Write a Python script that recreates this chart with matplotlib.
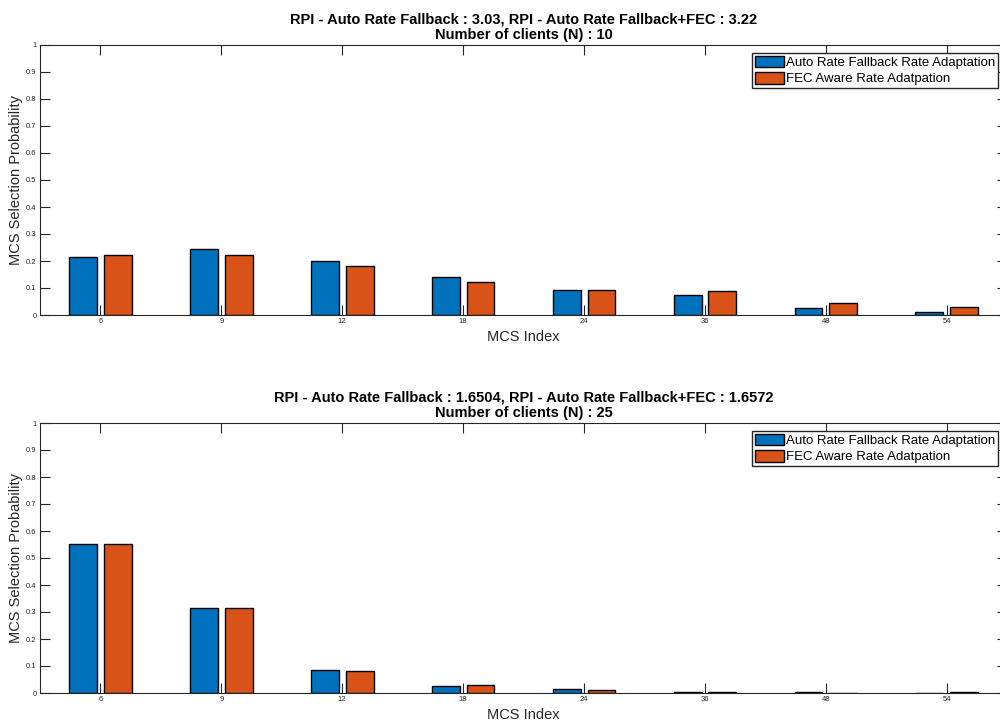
import matplotlib.pyplot as plt
import numpy as np

plt.rcParams['font.family'] = ['Liberation Sans', 'DejaVu Sans']

mcs = ['6', '9', '12', '18', '24', '36', '48', '54']
arf_10 = [0.213, 0.245, 0.200, 0.140, 0.092, 0.075, 0.025, 0.011]
fec_10 = [0.224, 0.221, 0.180, 0.122, 0.092, 0.088, 0.046, 0.029]
arf_25 = [0.552, 0.314, 0.084, 0.027, 0.015, 0.005, 0.002, 0.001]
fec_25 = [0.552, 0.316, 0.080, 0.031, 0.012, 0.004, 0.001, 0.002]
titles = ['RPI - Auto Rate Fallback : 3.03, RPI - Auto Rate Fallback+FEC : 3.22\nNumber of clients (N) : 10',
          'RPI - Auto Rate Fallback : 1.6504, RPI - Auto Rate Fallback+FEC : 1.6572\nNumber of clients (N) : 25']
labels = ['Auto Rate Fallback Rate Adaptation', 'FEC Aware Rate Adatpation']

blue = '#0072BD'
orange = '#D95319'
axc = '#262626'

fig = plt.figure(figsize=(10, 7.25), dpi=100)
W, H = 1000.0, 725.0
# axes boxes in pixels: left, top, right, bottom
boxes = [(40, 45, 1007, 315), (40, 423, 1007, 693)]
data = [(arf_10, fec_10), (arf_25, fec_25)]

x = np.arange(1, len(mcs) + 1)
for i in range(2):
    l, t, r, b = boxes[i]
    ax = fig.add_axes([l / W, 1 - b / H, (r - l) / W, (b - t) / H])
    a, f = data[i]
    ax.bar(x - 0.142, a, width=0.23, color=blue, edgecolor='black', linewidth=1, label=labels[0])
    ax.bar(x + 0.145, f, width=0.23, color=orange, edgecolor='black', linewidth=1, label=labels[1])
    ax.set_xlim(0.5, 8.5)
    ax.set_ylim(0, 1)
    ax.set_xticks(x)
    ax.set_xticklabels(mcs)
    ax.set_yticks(np.arange(0, 1.01, 0.1))
    ax.set_yticklabels(['0', '0.1', '0.2', '0.3', '0.4', '0.5', '0.6', '0.7', '0.8', '0.9', '1'])
    ax.tick_params(direction='in', length=7, width=0.8, labelsize=5.5, colors=axc,
                   top=True, right=True, pad=2.5)
    for s in ax.spines.values():
        s.set_color(axc)
        s.set_linewidth(0.8)
    ax.set_xlabel('MCS Index', fontsize=10.5, color=axc, labelpad=3)
    ax.set_ylabel('MCS Selection Probability', fontsize=10.5, color=axc, labelpad=2)
    ax.set_title(titles[i], fontsize=10.5, fontweight='bold', linespacing=1.2, pad=4)
    ax.legend(loc='upper right', bbox_to_anchor=(998 / W, 1 - (t + 8) / H),
              bbox_transform=fig.transFigure, fontsize=9.5, frameon=True, fancybox=False,
              edgecolor=axc, framealpha=1, borderpad=0.2, labelspacing=0.2,
              handlelength=2.2, handleheight=1.0, handletextpad=0.15, borderaxespad=0)

plt.savefig('out.png', dpi=100)
